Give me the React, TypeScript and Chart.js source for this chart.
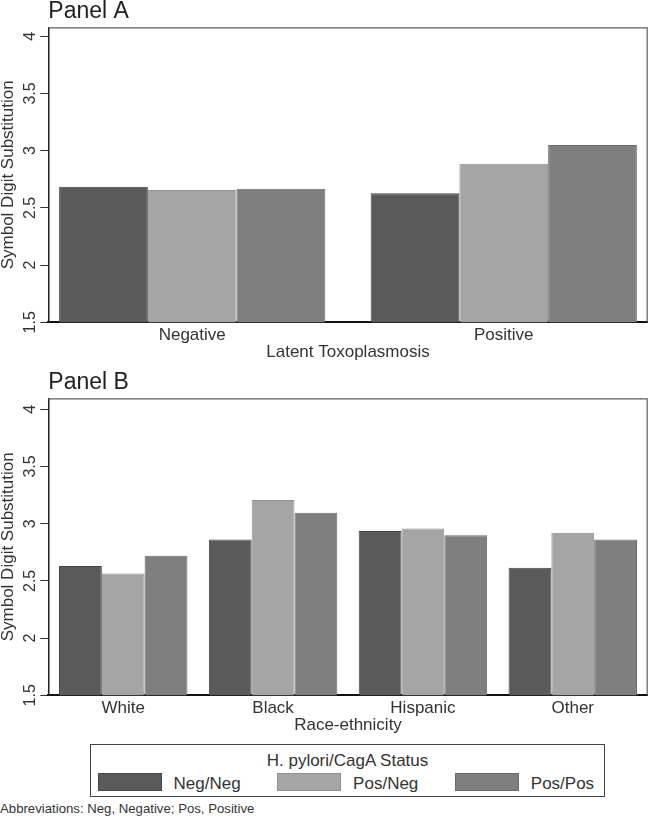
import React, { useEffect, useRef } from 'react';
import { Chart, registerables } from 'chart.js';

Chart.register(...registerables);

// ---------- data ----------
const SERIES = ['Neg/Neg', 'Pos/Neg', 'Pos/Pos'];
const FILLS = ['#5a5a5a', '#a5a5a5', '#7f7f7f'];
const EDGES = ['#444444', '#929292', '#6b6b6b'];

const TOXO_CATS = ['Negative', 'Positive'];
const TOXO_NEGNEG = [2.685, 2.628];
const TOXO_POSNEG = [2.657, 2.886];
const TOXO_POSPOS = [2.668, 3.05];

const RACE_CATS = ['White', 'Black', 'Hispanic', 'Other'];
const RACE_NEGNEG = [2.631, 2.862, 2.937, 2.614];
const RACE_POSNEG = [2.565, 3.206, 2.958, 2.92];
const RACE_POSPOS = [2.719, 3.095, 2.9, 2.862];

const Y_TICKS = [1.5, 2, 2.5, 3, 3.5, 4];
const Y_MIN = 1.5;
const Y_MAX_A = 4.078;
const Y_MAX_B = 4.096;
const X_PAD_A = 0.462;

const Y_TITLE = 'Symbol Digit Substitution';
const FONT = "'Liberation Sans', Arial, Helvetica, sans-serif";
const TEXT = '#333333';

Chart.defaults.font.family = FONT;
Chart.defaults.color = TEXT;

const framePlugin = {
  id: 'plotFrame',
  beforeDatasetsDraw(chart: any) {
    const { ctx, chartArea: a } = chart;
    ctx.save();
    ctx.strokeStyle = '#5e5e5e';
    ctx.lineWidth = 1.2;
    ctx.beginPath();
    ctx.moveTo(a.left, a.top + 0.5);
    ctx.lineTo(a.right - 0.5, a.top + 0.5);
    ctx.lineTo(a.right - 0.5, a.bottom);
    ctx.stroke();
    ctx.restore();
  },
};

function yScale(max: number) {
  return {
    type: 'linear',
    min: Y_MIN,
    max,
    afterBuildTicks: (s: any) => {
      s.ticks = Y_TICKS.map((v) => ({ value: v }));
    },
    afterFit: (s: any) => {
      s.width = 48.3;
    },
    ticks: {
      minRotation: 90,
      maxRotation: 90,
      crossAlign: 'center',
      padding: -1,
      font: { size: 16 },
      color: TEXT,
      callback: (v: number) => String(v),
    },
    grid: {
      display: true,
      drawOnChartArea: false,
      drawTicks: true,
      tickLength: 8,
      tickColor: '#333333',
      tickWidth: 1,
    },
    border: { display: true, color: '#222222', width: 1.5 },
    title: {
      display: true,
      text: Y_TITLE,
      font: { size: 17, lineHeight: 1 },
      color: TEXT,
      padding: { top: 0.3, bottom: 0 },
    },
  };
}

function xCommon(titleText: string) {
  return {
    grid: { display: false, drawTicks: false },
    border: { display: true, color: '#111111', width: 2 },
    title: {
      display: true,
      text: titleText,
      font: { size: 17, lineHeight: 1 },
      color: TEXT,
      padding: { top: -4.7, bottom: 0 },
    },
  };
}

function datasets(vals: number[][], asXY: boolean, catPct: number) {
  return SERIES.map((name, k) => ({
    label: name,
    data: asXY ? vals[k].map((y, i) => ({ x: i, y })) : vals[k],
    backgroundColor: FILLS[k],
    borderColor: EDGES[k],
    borderWidth: 1,
    categoryPercentage: catPct,
    barPercentage: 1,
  }));
}

function commonPlugins(title: string) {
  return {
    legend: { display: false },
    tooltip: { enabled: false },
    title: {
      display: true,
      text: title,
      align: 'start',
      fullSize: false,
      color: '#222222',
      font: { size: 23, weight: 'normal', lineHeight: 1 },
      padding: { top: 0, bottom: 4.3 },
    },
  };
}

function configA(): any {
  return {
    type: 'bar',
    data: {
      datasets: datasets([TOXO_NEGNEG, TOXO_POSNEG, TOXO_POSPOS], true, 0.8546),
    },
    options: {
      animation: false,
      responsive: false,
      devicePixelRatio: 1,
      events: [],
      layout: { padding: { left: 0, top: 0, right: 2.3, bottom: 0 } },
      scales: {
        x: {
          type: 'linear',
          min: -X_PAD_A,
          max: TOXO_CATS.length - 1 + X_PAD_A,
          offset: false,
          afterBuildTicks: (s: any) => {
            s.ticks = TOXO_CATS.map((_, i) => ({ value: i }));
          },
          ticks: {
            callback: (v: number) => TOXO_CATS[v] ?? '',
            font: { size: 17, lineHeight: 1 },
            padding: 4.7,
            color: TEXT,
            maxRotation: 0,
            autoSkip: false,
          },
          ...xCommon('Latent Toxoplasmosis'),
        },
        y: yScale(Y_MAX_A),
      },
      plugins: commonPlugins('Panel A'),
    },
    plugins: [framePlugin],
  };
}

function configB(): any {
  return {
    type: 'bar',
    data: {
      labels: RACE_CATS,
      datasets: datasets([RACE_NEGNEG, RACE_POSNEG, RACE_POSPOS], false, 0.857),
    },
    options: {
      animation: false,
      responsive: false,
      devicePixelRatio: 1,
      events: [],
      layout: { padding: { left: 0, top: 0, right: 2.3, bottom: 0 } },
      scales: {
        x: {
          type: 'category',
          offset: true,
          ticks: {
            font: { size: 17, lineHeight: 1 },
            padding: 4.7,
            color: TEXT,
            maxRotation: 0,
            autoSkip: false,
          },
          ...xCommon('Race-ethnicity'),
        },
        y: yScale(Y_MAX_B),
      },
      plugins: commonPlugins('Panel B'),
    },
    plugins: [framePlugin],
  };
}

function Panel({ make, top, height }: { make: () => any; top: number; height: number }) {
  const ref = useRef<HTMLCanvasElement | null>(null);
  useEffect(() => {
    if (!ref.current) return;
    const chart = new Chart(ref.current, make());
    return () => chart.destroy();
  }, []);
  return (
    <canvas
      ref={ref}
      width={650}
      height={height}
      style={{ position: 'absolute', left: 0, top, width: 650, height }}
    />
  );
}

export default function App() {
  return (
    <div
      style={{
        position: 'relative',
        width: 650,
        height: 823,
        background: '#ffffff',
        fontFamily: FONT,
        color: TEXT,
        overflow: 'hidden',
      }}
    >
      <style>{'body{margin:0;background:#fff}'}</style>
      <Panel make={configA} top={0} height={361} />
      <Panel make={configB} top={371} height={363} />

      <div
        style={{
          position: 'absolute',
          left: 90,
          top: 744,
          width: 515,
          height: 53,
          border: '1.5px solid #444',
          boxSizing: 'border-box',
        }}
      >
        <div
          style={{
            position: 'absolute',
            left: 0,
            right: 0,
            top: 7,
            textAlign: 'center',
            fontSize: 17,
            lineHeight: '17px',
            whiteSpace: 'nowrap',
          }}
        >
          H. pylori/CagA Status
        </div>
        <div
          style={{
            position: 'absolute',
            left: 6.5,
            top: 27.8,
            display: 'flex',
            alignItems: 'center',
            gap: 36.5,
          }}
        >
          {SERIES.map((s, i) => (
            <div key={s} style={{ display: 'flex', alignItems: 'center' }}>
              <span
                style={{
                  display: 'inline-block',
                  width: 64,
                  height: 18,
                  background: FILLS[i],
                  border: `1px solid ${EDGES[i]}`,
                  boxSizing: 'border-box',
                  marginRight: 12,
                }}
              />
              <span
                style={{
                  fontSize: 17,
                  lineHeight: '17px',
                  position: 'relative',
                  top: 2,
                  whiteSpace: 'nowrap',
                }}
              >
                {s}
              </span>
            </div>
          ))}
        </div>
      </div>

      <div
        style={{
          position: 'absolute',
          left: 0,
          top: 801.6,
          fontSize: 13.2,
          lineHeight: '13px',
          whiteSpace: 'nowrap',
        }}
      >
        Abbreviations: Neg, Negative; Pos, Positive
      </div>
    </div>
  );
}
